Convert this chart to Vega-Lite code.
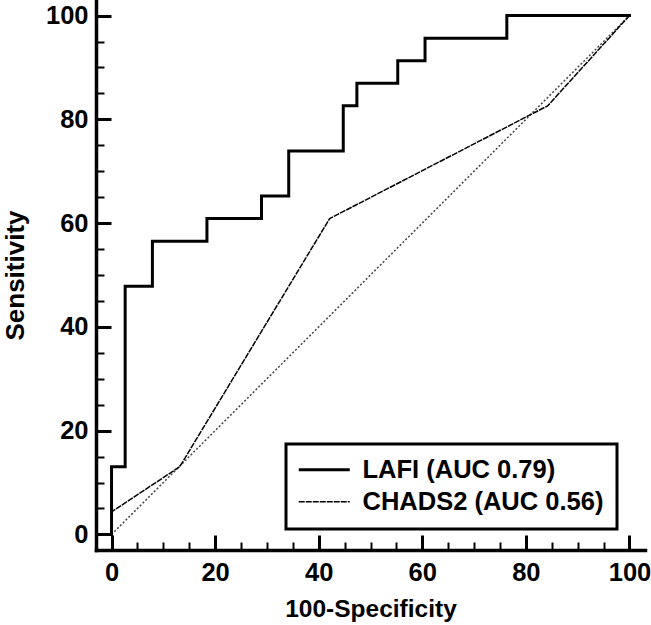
{
  "$schema": "https://vega.github.io/schema/vega-lite/v6.json",
  "width": 549,
  "height": 550,
  "autosize": {"type": "none"},
  "padding": {"left": 96, "top": 0, "right": 6, "bottom": 75},
  "background": "white",
  "config": {
    "font": "Liberation Sans",
    "view": {"stroke": null},
    "axis": {
      "grid": false,
      "domainColor": "black",
      "domainWidth": 3.5,
      "domainCap": "square",
      "tickColor": "black",
      "labelFont": "Liberation Sans",
      "labelFontSize": 25.5,
      "labelFontWeight": "bold",
      "labelColor": "black",
      "labelFlush": false,
      "labelOverlap": false,
      "titleFont": "Liberation Sans",
      "titleFontSize": 24.5,
      "titleFontWeight": "bold",
      "titleColor": "black"
    }
  },
  "datasets": {
    "ref": [{"fpr": 0, "tpr": 0}, {"fpr": 100, "tpr": 100}],
    "roc": [
      {"curve": "LAFI (AUC 0.79)", "i": 0, "fpr": 0, "tpr": 0},
      {"curve": "LAFI (AUC 0.79)", "i": 1, "fpr": 0, "tpr": 13.04},
      {"curve": "LAFI (AUC 0.79)", "i": 2, "fpr": 2.63, "tpr": 47.83},
      {"curve": "LAFI (AUC 0.79)", "i": 3, "fpr": 7.89, "tpr": 56.52},
      {"curve": "LAFI (AUC 0.79)", "i": 4, "fpr": 18.42, "tpr": 60.87},
      {"curve": "LAFI (AUC 0.79)", "i": 5, "fpr": 28.95, "tpr": 65.22},
      {"curve": "LAFI (AUC 0.79)", "i": 6, "fpr": 34.21, "tpr": 73.91},
      {"curve": "LAFI (AUC 0.79)", "i": 7, "fpr": 44.74, "tpr": 82.61},
      {"curve": "LAFI (AUC 0.79)", "i": 8, "fpr": 47.37, "tpr": 86.96},
      {"curve": "LAFI (AUC 0.79)", "i": 9, "fpr": 55.26, "tpr": 91.3},
      {"curve": "LAFI (AUC 0.79)", "i": 10, "fpr": 60.53, "tpr": 95.65},
      {"curve": "LAFI (AUC 0.79)", "i": 11, "fpr": 76.32, "tpr": 100},
      {"curve": "LAFI (AUC 0.79)", "i": 12, "fpr": 100, "tpr": 100},
      {"curve": "CHADS2 (AUC 0.56)", "i": 0, "fpr": 0, "tpr": 0},
      {"curve": "CHADS2 (AUC 0.56)", "i": 1, "fpr": 0, "tpr": 4.35},
      {"curve": "CHADS2 (AUC 0.56)", "i": 2, "fpr": 13.16, "tpr": 13.04},
      {"curve": "CHADS2 (AUC 0.56)", "i": 3, "fpr": 42.11, "tpr": 60.87},
      {"curve": "CHADS2 (AUC 0.56)", "i": 4, "fpr": 84.21, "tpr": 82.61},
      {"curve": "CHADS2 (AUC 0.56)", "i": 5, "fpr": 100, "tpr": 100}
    ]
  },
  "encoding": {
    "x": {
      "field": "fpr",
      "type": "quantitative",
      "scale": {"domain": [-3, 103], "nice": false, "zero": false},
      "axis": {
        "title": "100-Specificity",
        "values": [0, 5, 10, 15, 20, 25, 30, 35, 40, 45, 50, 55, 60, 65, 70, 75, 80, 85, 90, 95, 100],
        "labelExpr": "datum.value % 20 === 0 ? datum.label : ''",
        "tickSize": {"condition": {"test": "datum.value % 20 === 0", "value": -15}, "value": -8},
        "tickWidth": {"condition": {"test": "datum.value % 20 === 0", "value": 3}, "value": 2},
        "labelPadding": 25,
        "titlePadding": 5
      }
    },
    "y": {
      "field": "tpr",
      "type": "quantitative",
      "scale": {"domain": [-3, 103], "nice": false, "zero": false},
      "axis": {
        "title": "Sensitivity",
        "titleFontSize": 26,
        "values": [0, 5, 10, 15, 20, 25, 30, 35, 40, 45, 50, 55, 60, 65, 70, 75, 80, 85, 90, 95, 100],
        "labelExpr": "datum.value % 20 === 0 ? datum.label : ''",
        "tickSize": {"condition": {"test": "datum.value % 20 === 0", "value": -15}, "value": -8},
        "tickWidth": {"condition": {"test": "datum.value % 20 === 0", "value": 3}, "value": 2},
        "labelPadding": 23,
        "titlePadding": 17
      }
    }
  },
  "layer": [
    {
      "data": {"name": "ref"},
      "mark": {"type": "line", "color": "#444444", "strokeWidth": 1.5, "strokeDash": [2, 2]}
    },
    {
      "data": {"name": "roc"},
      "transform": [{"filter": "datum.curve === 'LAFI (AUC 0.79)'"}],
      "mark": {"type": "line", "color": "black", "interpolate": "step-after", "strokeJoin": "miter", "strokeCap": "square"},
      "encoding": {
        "order": {"field": "i", "type": "quantitative"},
        "strokeDash": {
          "field": "curve", "type": "nominal",
          "scale": {"domain": ["LAFI (AUC 0.79)", "CHADS2 (AUC 0.56)"], "range": [[1, 0], [6, 1]]},
          "legend": {
            "title": null, "orient": "none", "legendX": 190, "legendY": 444,
            "padding": 13, "strokeColor": "black", "rowPadding": 5,
            "symbolType": "M-1.3,0H3.8", "symbolSize": 400, "symbolStrokeColor": "black",
            "labelFont": "Liberation Sans", "labelFontSize": 25.5, "labelFontWeight": "bold", "labelColor": "black",
            "labelOffset": 38, "labelLimit": 500,
            "encode": {"legend": {"update": {"strokeWidth": {"value": 3}}}}
          }
        },
        "strokeWidth": {
          "field": "curve", "type": "nominal",
          "scale": {"domain": ["LAFI (AUC 0.79)", "CHADS2 (AUC 0.56)"], "range": [3, 1.5]},
          "legend": {
            "title": null, "orient": "none", "legendX": 190, "legendY": 444,
            "padding": 13, "strokeColor": "black", "rowPadding": 5,
            "symbolType": "M-1.3,0H3.8", "symbolSize": 400, "symbolStrokeColor": "black",
            "labelFont": "Liberation Sans", "labelFontSize": 25.5, "labelFontWeight": "bold", "labelColor": "black",
            "labelOffset": 38, "labelLimit": 500,
            "encode": {"legend": {"update": {"strokeWidth": {"value": 3}}}}
          }
        }
      }
    },
    {
      "data": {"name": "roc"},
      "transform": [{"filter": "datum.curve === 'CHADS2 (AUC 0.56)'"}],
      "mark": {"type": "line", "color": "black"},
      "encoding": {
        "order": {"field": "i", "type": "quantitative"},
        "strokeDash": {"field": "curve", "type": "nominal"},
        "strokeWidth": {"field": "curve", "type": "nominal"}
      }
    }
  ]
}
